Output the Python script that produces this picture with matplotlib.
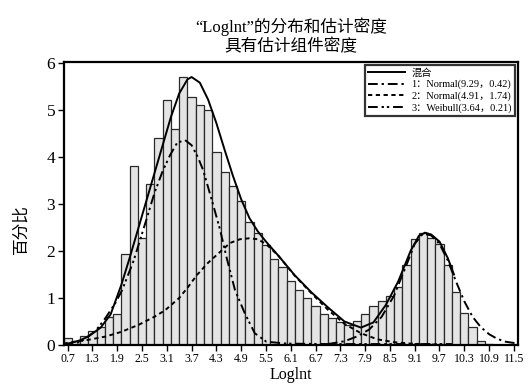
import numpy as np
import matplotlib
matplotlib.use("Agg")
import matplotlib.pyplot as plt

# ---------------- data ----------------
bin_centers = [round(0.7 + 0.2 * i, 1) for i in range(55)]
percent = [0.15, 0.09, 0.19, 0.29, 0.39, 0.60, 0.67, 1.93, 3.81, 2.28,
           3.42, 4.40, 5.21, 4.60, 5.71, 5.27, 5.11, 4.99, 4.11, 3.67,
           3.38, 3.06, 2.62, 2.38, 2.13, 1.82, 1.65, 1.36, 1.18, 0.99,
           0.83, 0.67, 0.58, 0.48, 0.43, 0.50, 0.66, 0.83, 0.94, 1.04,
           1.24, 1.70, 2.26, 2.38, 2.28, 2.15, 1.70, 1.13, 0.69, 0.39,
           0.09, 0.03, 0.0, 0.0, 0.0]

mix_x = [0.7, 0.8, 1.0, 1.2, 1.5, 1.74, 2.0, 2.2, 2.4, 2.6, 2.8, 3.0, 3.2, 3.4,
         3.6, 3.7, 3.9, 4.1, 4.3, 4.5, 4.7, 4.9, 5.1, 5.3, 5.5, 5.8, 6.2, 6.6,
         7.0, 7.4, 7.8, 8.1, 8.4, 8.7, 9.0, 9.2, 9.35, 9.5, 9.7, 9.9, 10.05]
mix_y = [0.03, 0.05, 0.10, 0.18, 0.37, 0.65, 1.28, 1.85, 2.45, 3.05, 3.65, 4.25,
         4.85, 5.35, 5.65, 5.70, 5.58, 5.22, 4.72, 4.15, 3.60, 3.10, 2.70, 2.42,
         2.20, 1.90, 1.48, 1.12, 0.80, 0.50, 0.37, 0.48, 0.85, 1.35, 2.00, 2.32,
         2.39, 2.35, 2.20, 1.85, 1.50]

c1_x = [7.0, 7.4, 7.7, 8.0, 8.3, 8.6, 8.9, 9.1, 9.3, 9.5, 9.7, 9.9, 10.1, 10.3,
        10.5, 10.7, 10.9, 11.1, 11.3, 11.6]
c1_y = [0.02, 0.08, 0.18, 0.33, 0.60, 1.05, 1.70, 2.15, 2.37, 2.33, 2.15, 1.80,
        1.35, 0.93, 0.60, 0.38, 0.23, 0.13, 0.07, 0.03]

c2_x = [0.6, 0.73, 1.2, 1.62, 2.0, 2.42, 2.8, 3.06, 3.4, 3.62, 3.83, 4.1, 4.39,
        4.63, 4.87, 5.1, 5.3, 5.5, 5.8, 6.2, 6.6, 7.0, 7.4, 7.8, 8.2, 8.6, 9.0,
        9.5, 10.0]
c2_y = [0.03, 0.05, 0.11, 0.18, 0.28, 0.43, 0.60, 0.74, 1.00, 1.24, 1.49, 1.75,
        1.98, 2.17, 2.25, 2.27, 2.25, 2.15, 1.90, 1.47, 1.10, 0.75, 0.45, 0.25,
        0.12, 0.06, 0.03, 0.01, 0.0]

c3_x = [0.6, 1.0, 1.38, 1.62, 1.86, 2.02, 2.3, 2.6, 2.8, 3.0, 3.18, 3.35, 3.54,
        3.7, 3.85, 3.98, 4.2, 4.39, 4.55, 4.75, 4.99, 5.23, 5.51, 6.0, 7.0, 8.0,
        9.0, 10.0]
c3_y = [0.0, 0.06, 0.30, 0.58, 0.90, 1.17, 1.80, 2.65, 3.23, 3.70, 4.04, 4.30,
        4.36, 4.25, 4.00, 3.72, 3.05, 2.45, 1.85, 1.17, 0.67, 0.25, 0.07, 0.03,
        0.02, 0.02, 0.02, 0.02]

xticks = [0.7, 1.3, 1.9, 2.5, 3.1, 3.7, 4.3, 4.9, 5.5, 6.1, 6.7, 7.3, 7.9, 8.5,
          9.1, 9.7, 10.3, 10.9, 11.5]
yticks = [0, 1, 2, 3, 4, 5, 6]

title_text = "“Loglnt”的分布和估计密度\n具有估计组件密度"
xlabel_text = "Loglnt"
ylabel_text = "百分比"
legend_labels = ["混合", "1：Normal(9.29，0.42)", "2：Normal(4.91，1.74)",
                 "3：Weibull(3.64，0.21)"]

# ---------------- plot ----------------
fam = ["Liberation Serif", "Noto Sans CJK SC", "DejaVu Sans"]
plt.rcParams["font.family"] = fam

fig = plt.figure(figsize=(5.31, 3.90), dpi=100)
ax = fig.add_axes([63.5 / 531, 1 - 345 / 390, (518 - 63.5) / 531, (345 - 62) / 390])

ax.bar(bin_centers, percent, width=0.2, color="#e4e4e4", edgecolor="#2a2a2a",
       linewidth=0.9, zorder=2)

lw = 1.4
l0, = ax.plot(mix_x, mix_y, color="black", lw=lw, ls="-", zorder=5)
l1, = ax.plot(c1_x, c1_y, color="black", lw=lw, ls=(0, (5, 2, 1.2, 2)), zorder=4)
l2, = ax.plot(c2_x, c2_y, color="black", lw=lw, ls=(0, (2.2, 1.8)), zorder=4)
l3, = ax.plot(c3_x, c3_y, color="black", lw=lw, ls=(0, (5, 2, 1.2, 1.5, 1.2, 2)), zorder=4)

ax.set_xlim(0.6, 11.6)
ax.set_ylim(0, 6.02)
ax.set_xticks(xticks)
ax.set_xticklabels([f"{t:.1f}" for t in xticks], fontsize=8.6)
ax.set_yticks(yticks)
ax.set_yticklabels([str(t) for t in yticks], fontsize=12.5)
ax.tick_params(axis="both", direction="out", length=4, width=1, pad=2)

for s in ax.spines.values():
    s.set_linewidth(1.6)

ax.set_title(title_text, fontsize=12, linespacing=1.2, pad=8)
ax.set_xlabel(xlabel_text, fontsize=11.5, labelpad=1)
ax.set_ylabel(ylabel_text, fontsize=12)
ax.yaxis.set_label_coords(-0.075, 0.41)

leg = ax.legend([l0, l1, l2, l3], legend_labels, loc="upper right",
                fontsize=7.4, frameon=True, fancybox=False, handlelength=3.6,
                borderpad=0.3, labelspacing=0.2, handletextpad=0.6,
                borderaxespad=0.3)
leg.get_frame().set_edgecolor("black")
leg.get_frame().set_linewidth(1.6)

fig.savefig("out.png", dpi=100)
